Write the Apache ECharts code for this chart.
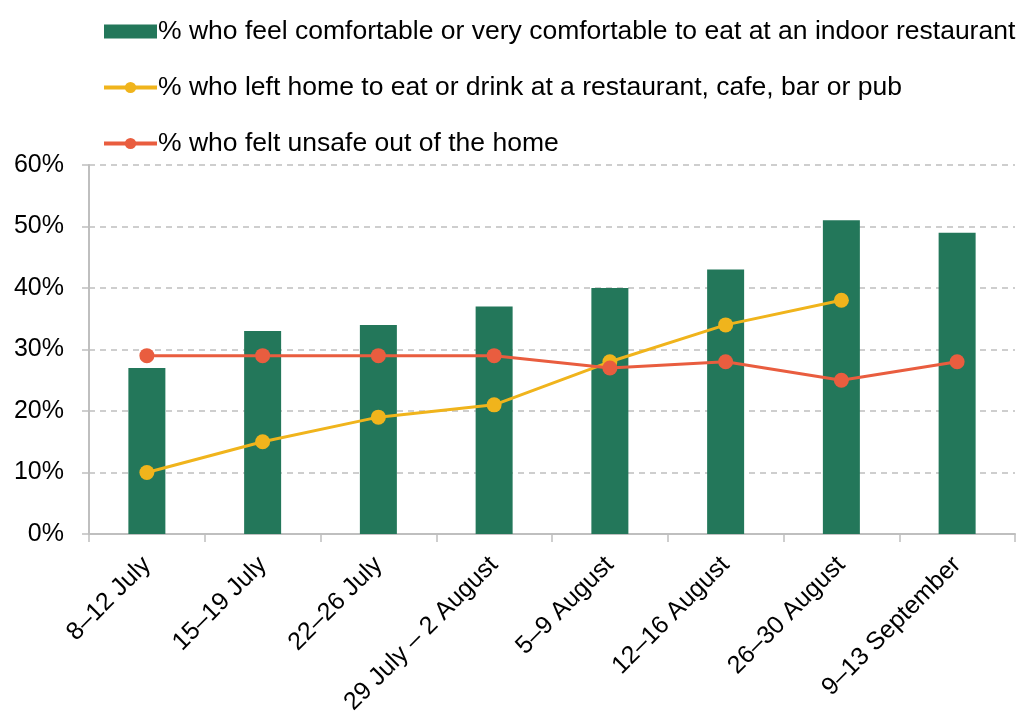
<!DOCTYPE html>
<html>
<head>
<meta charset="utf-8">
<script src="https://cdn.jsdelivr.net/npm/echarts@6/dist/echarts.min.js"></script>
<style>
  html, body { margin: 0; padding: 0; background: #fff; }
  #chart { width: 1020px; height: 719px; }
</style>
</head>
<body>
<div id="chart"></div>
<script>
const categories = ['8–12 July', '15–19 July', '22–26 July', '29 July – 2 August', '5–9 August', '12–16 August', '26–30 August', '9–13 September'];
const comfortable = [27, 33, 34, 37, 40, 43, 51, 49];
const leftHome = [10, 15, 19, 21, 28, 34, 38, null];
const feltUnsafe = [29, 29, 29, 29, 27, 28, 25, 28];
const yTicks = [0, 10, 20, 30, 40, 50, 60];

const names = [
  '% who feel comfortable or very comfortable to eat at an indoor restaurant',
  '% who left home to eat or drink at a restaurant, cafe, bar or pub',
  '% who felt unsafe out of the home'
];
const font = '"Liberation Sans", Arial, sans-serif';
const gray = '#bfbfbf';
const green = '#23775a';
const yellow = '#f0b41c';
const red = '#e95d3f';

const chart = echarts.init(document.getElementById('chart'));

chart.setOption({
  animation: false,
  textStyle: { fontFamily: font },
  legend: {
    orient: 'vertical',
    left: 97,
    top: 13,
    itemWidth: 53,
    itemHeight: 14,
    itemGap: 29,
    textStyle: { fontSize: 26.5, color: '#000', fontFamily: font, lineHeight: 26, padding: [0, 0, 0, -4] },
    data: [
      { name: names[0], icon: 'rect' },
      { name: names[1], lineStyle: { width: 4 } },
      { name: names[2], lineStyle: { width: 4 } }
    ]
  },
  grid: { left: 89, right: 5, top: 165, bottom: 185, containLabel: false },
  xAxis: {
    type: 'category',
    data: categories,
    axisLine: { lineStyle: { color: gray, width: 2 } },
    axisTick: { show: true, length: 8, lineStyle: { color: gray, width: 1.5 } },
    axisLabel: { rotate: 45, fontSize: 25, color: '#000', margin: 27, interval: 0 }
  },
  yAxis: {
    type: 'value',
    min: yTicks[0],
    max: yTicks[yTicks.length - 1],
    interval: 10,
    axisLine: { show: true, lineStyle: { color: gray, width: 2 } },
    axisTick: { show: true, length: 7, lineStyle: { color: gray, width: 1.5 } },
    axisLabel: { fontSize: 25, color: '#000', margin: 25, formatter: (v) => v + '%' },
    splitLine: { show: true, lineStyle: { color: gray, type: [6, 5], width: 1.5 } }
  },
  series: [
    {
      name: names[0],
      type: 'bar',
      data: comfortable,
      barWidth: 37,
      itemStyle: { color: green }
    },
    {
      name: names[1],
      type: 'line',
      data: leftHome,
      symbol: 'circle',
      symbolSize: 15,
      lineStyle: { color: yellow, width: 3 },
      itemStyle: { color: yellow }
    },
    {
      name: names[2],
      type: 'line',
      data: feltUnsafe,
      symbol: 'circle',
      symbolSize: 15,
      lineStyle: { color: red, width: 3 },
      itemStyle: { color: red }
    }
  ]
});
</script>
</body>
</html>
